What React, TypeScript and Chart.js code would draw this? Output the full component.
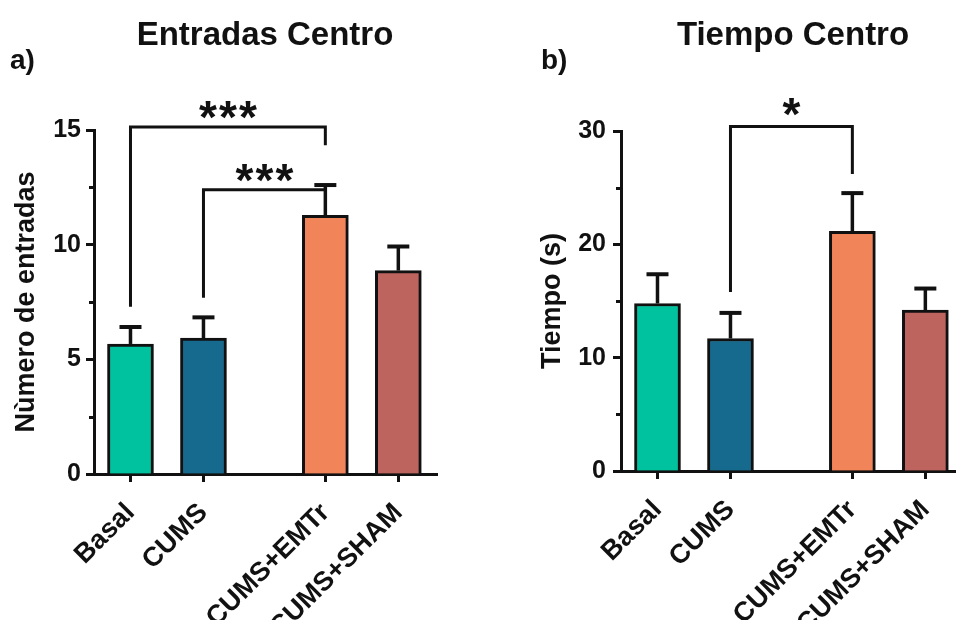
import React, { useEffect, useRef } from 'react';
import { Chart, registerables } from 'chart.js';

Chart.register(...registerables);

const FONT = '"Liberation Sans", Arial, Helvetica, sans-serif';
const INK = '#111111';

// ---- data ----
const categories = ['Basal', 'CUMS', 'CUMS+EMTr', 'CUMS+SHAM'];
const categoryPositions = [0, 1, 2.67, 3.67];
const barColors = ['#00C29E', '#166A8E', '#F2845A', '#BE645F'];

const entradasMean = [5.67, 5.93, 11.28, 8.87];
const entradasSem = [0.74, 0.9, 1.32, 1.05];
const entradasTicks = [0, 5, 10, 15];
const entradasMinorTicks = [2.5, 7.5, 12.5];
const entradasBrackets = [
  { from: 0, to: 2, top: 15.13, leftEnd: 7.29, rightEnd: 14.34, label: '***' },
  { from: 1, to: 2, top: 12.39, leftEnd: 7.68, rightEnd: 12.39, label: '***' },
];

const tiempoMean = [14.78, 11.69, 21.15, 14.19];
const tiempoSem = [2.58, 2.26, 3.37, 1.91];
const tiempoTicks = [0, 10, 20, 30];
const tiempoMinorTicks = [5, 15, 25];
const tiempoBrackets = [
  { from: 1, to: 2, top: 30.4, leftEnd: 15.8, rightEnd: 26.2, label: '*' },
];

type Bracket = { from: number; to: number; top: number; leftEnd: number; rightEnd: number; label: string };
type Panel = {
  letter: string;
  title: string;
  yTitle: string;
  means: number[];
  sems: number[];
  ticks: number[];
  minor: number[];
  yMax: number;
  brackets: Bracket[];
  axisX: number;
  top: number;
  bottom: number;
  rightPad: number;
  xMax: number;
  titleX: number;
  letterX: number;
  yTitlePad: number;
  tickPad: number;
  starGap: number;
};

const panels: Panel[] = [
  {
    letter: 'a)', title: 'Entradas Centro', yTitle: 'Nùmero de entradas',
    means: entradasMean, sems: entradasSem, ticks: entradasTicks, minor: entradasMinorTicks,
    yMax: 15, brackets: entradasBrackets,
    axisX: 94, top: 130, bottom: 474, rightPad: 41, xMax: 4.2,
    titleX: 265, letterX: 10, yTitlePad: 10, tickPad: 5, starGap: 20,
  },
  {
    letter: 'b)', title: 'Tiempo Centro', yTitle: 'Tiempo (s)',
    means: tiempoMean, sems: tiempoSem, ticks: tiempoTicks, minor: tiempoMinorTicks,
    yMax: 30, brackets: tiempoBrackets,
    axisX: 143, top: 131, bottom: 471, rightPad: 0, xMax: 4.09,
    titleX: 315, letterX: 63, yTitlePad: 58, tickPad: 7, starGap: 22,
  },
];

const overlayPlugin = {
  id: 'overlay',
  afterDatasetsDraw(chart: any, _args: any, opts: any) {
    const p: Panel = opts.panel;
    if (!p) return;
    const { ctx } = chart;
    const x = chart.scales.x;
    const y = chart.scales.y;
    ctx.save();
    ctx.strokeStyle = INK;
    ctx.fillStyle = INK;
    ctx.lineCap = 'butt';
    // error bars (upper only)
    p.means.forEach((m, i) => {
      const px = x.getPixelForValue(categoryPositions[i]);
      const y0 = y.getPixelForValue(m);
      const y1 = y.getPixelForValue(m + p.sems[i]);
      ctx.lineWidth = 3.5;
      ctx.beginPath();
      ctx.moveTo(px, y0);
      ctx.lineTo(px, y1);
      ctx.stroke();
      ctx.lineWidth = 4;
      ctx.beginPath();
      ctx.moveTo(px - 11, y1);
      ctx.lineTo(px + 11, y1);
      ctx.stroke();
    });
    // minor ticks
    ctx.lineWidth = 3;
    ctx.beginPath();
    p.minor.forEach((v) => {
      const py = Math.round(y.getPixelForValue(v)) + 0.5;
      ctx.moveTo(x.left - 5, py);
      ctx.lineTo(x.left, py);
    });
    ctx.stroke();
    // significance brackets
    ctx.lineWidth = 3;
    ctx.lineJoin = 'miter';
    p.brackets.forEach((b) => {
      const x1 = x.getPixelForValue(categoryPositions[b.from]);
      const x2 = x.getPixelForValue(categoryPositions[b.to]);
      const yT = y.getPixelForValue(b.top);
      const yL = y.getPixelForValue(b.leftEnd);
      const yR = y.getPixelForValue(b.rightEnd);
      ctx.beginPath();
      ctx.moveTo(x1, yL);
      ctx.lineTo(x1, yT);
      ctx.lineTo(x2, yT);
      ctx.lineTo(x2, yR);
      ctx.stroke();
      ctx.font = `bold 46px ${FONT}`;
      ctx.textAlign = 'center';
      ctx.textBaseline = 'alphabetic';
      const n = b.label.length;
      const step = 20;
      const cx = (x1 + x2) / 2;
      for (let k = 0; k < n; k++) {
        ctx.fillText(b.label[k], cx + (k - (n - 1) / 2) * step, yT - p.starGap + 26);
      }
    });
    ctx.restore();
  },
  afterDraw(chart: any, _args: any, opts: any) {
    const p: Panel = opts.panel;
    if (!p) return;
    const { ctx } = chart;
    ctx.save();
    ctx.fillStyle = INK;
    ctx.textBaseline = 'alphabetic';
    ctx.textAlign = 'center';
    ctx.font = `bold 33px ${FONT}`;
    ctx.fillText(p.title, p.titleX, 45);
    ctx.textAlign = 'left';
    ctx.font = `bold 28px ${FONT}`;
    ctx.fillText(p.letter, p.letterX, 69);
    ctx.restore();
  },
};

function PanelChart({ panel }: { panel: Panel }) {
  const ref = useRef<HTMLCanvasElement>(null);
  useEffect(() => {
    if (!ref.current) return;
    const p = panel;
    const chart = new Chart(ref.current, {
      type: 'bar',
      data: {
        datasets: [
          {
            data: p.means.map((m, i) => ({ x: categoryPositions[i], y: m })),
            backgroundColor: barColors,
            borderColor: INK,
            borderWidth: 3,
            barThickness: 46,
          } as any,
        ],
      },
      plugins: [overlayPlugin],
      options: {
        responsive: false,
        animation: false,
        layout: { padding: { top: p.top, right: p.rightPad, left: 0, bottom: 0 } },
        plugins: {
          legend: { display: false },
          tooltip: { enabled: false },
          overlay: { panel: p },
        } as any,
        scales: {
          x: {
            type: 'linear',
            min: -0.5,
            max: p.xMax,
            offset: false,
            afterBuildTicks: (s: any) => {
              s.ticks = categoryPositions.map((v) => ({ value: v }));
            },
            afterFit: (s: any) => {
              s.height = 620 - p.bottom;
              s.paddingLeft = 0;
              s.paddingRight = 0;
            },
            ticks: {
              autoSkip: false,
              minRotation: 45,
              maxRotation: 45,
              padding: 15,
              color: INK,
              font: { family: FONT, size: 27, weight: 'bold' },
              callback: (v: any) => {
                const i = categoryPositions.indexOf(Number(v));
                return i >= 0 ? categories[i] : '';
              },
            },
            grid: { drawOnChartArea: false, offset: false, tickLength: 8, tickWidth: 3, tickColor: INK },
            border: { width: 3, color: INK },
          },
          y: {
            min: 0,
            max: p.yMax,
            afterBuildTicks: (s: any) => {
              s.ticks = p.ticks.map((v) => ({ value: v }));
            },
            afterFit: (s: any) => {
              s.width = p.axisX;
            },
            ticks: {
              padding: p.tickPad,
              color: INK,
              font: { family: FONT, size: 25, weight: 'bold' },
            },
            grid: { drawOnChartArea: false, tickLength: 8, tickWidth: 3, tickColor: INK },
            border: { width: 3, color: INK },
            title: {
              display: true,
              text: p.yTitle,
              color: INK,
              padding: p.yTitlePad,
              font: { family: FONT, size: 27, weight: 'bold' },
            },
          },
        },
      } as any,
    });
    return () => chart.destroy();
  }, [panel]);
  return <canvas ref={ref} width={478} height={620} style={{ display: 'block', width: 478, height: 620 }} />;
}

export default function App() {
  return (
    <div style={{ position: 'fixed', left: 0, top: 0, width: 956, height: 620, background: '#fff', display: 'flex' }}>
      {panels.map((p) => (
        <PanelChart key={p.letter} panel={p} />
      ))}
    </div>
  );
}
